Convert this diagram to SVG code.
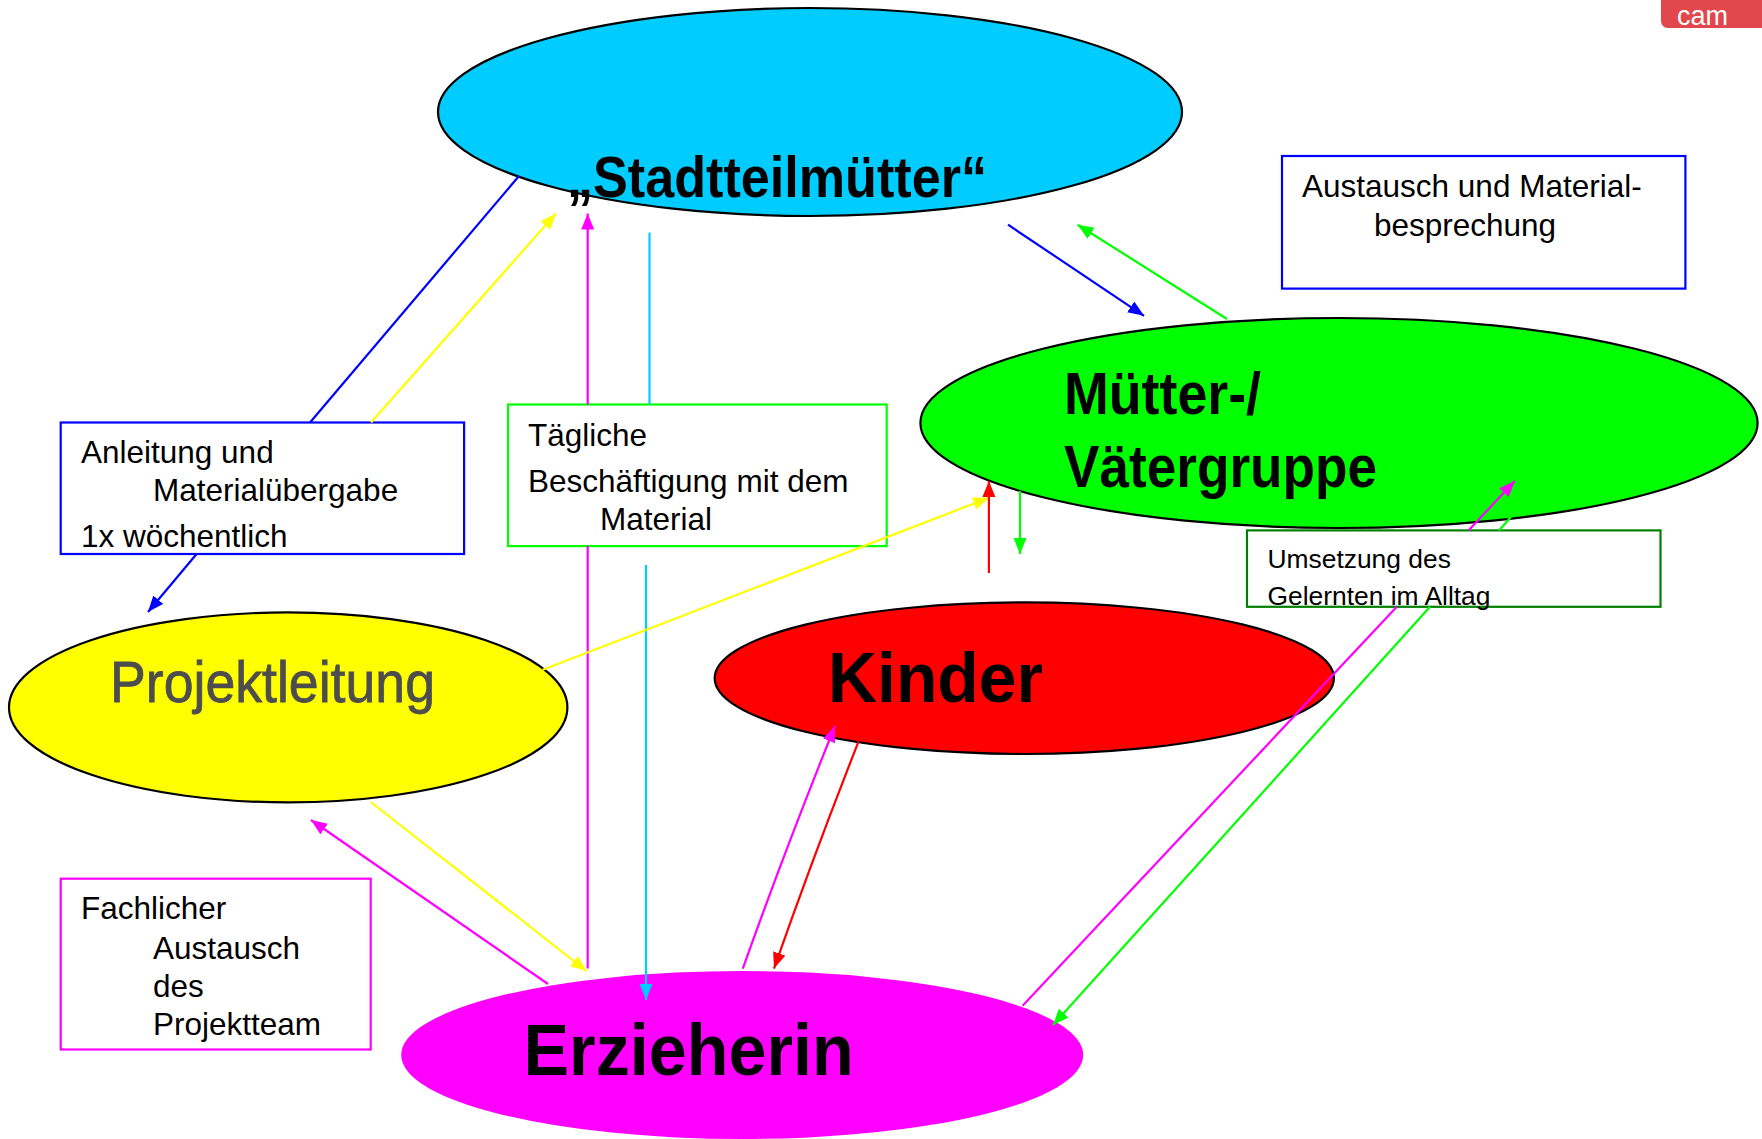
<svg xmlns="http://www.w3.org/2000/svg" width="1762" height="1139" viewBox="0 0 1762 1139">
<style>
.node{stroke:#000;stroke-width:2.2}
.big{font-family:"Liberation Sans",Arial,sans-serif;font-weight:bold;fill:#000}
.lbl{font-family:"Liberation Sans",Arial,sans-serif;font-size:31.5px;fill:#000}
.sm{font-size:26.4px}
.box{fill:#fff;stroke-width:2.2}
.c{fill:none;stroke-width:2.2}
</style>
<defs>
<marker id="aBlue" markerUnits="userSpaceOnUse" markerWidth="17" markerHeight="14" refX="16" refY="6.5" orient="auto"><path d="M0,0 L16,6.5 L0,13 z" fill="#0000ff"/></marker>
<marker id="aYellow" markerUnits="userSpaceOnUse" markerWidth="17" markerHeight="14" refX="16" refY="6.5" orient="auto"><path d="M0,0 L16,6.5 L0,13 z" fill="#ffff00"/></marker>
<marker id="aMagenta" markerUnits="userSpaceOnUse" markerWidth="17" markerHeight="14" refX="16" refY="6.5" orient="auto"><path d="M0,0 L16,6.5 L0,13 z" fill="#ff00ff"/></marker>
<marker id="aCyan" markerUnits="userSpaceOnUse" markerWidth="17" markerHeight="14" refX="16" refY="6.5" orient="auto"><path d="M0,0 L16,6.5 L0,13 z" fill="#00ccff"/></marker>
<marker id="aGreen" markerUnits="userSpaceOnUse" markerWidth="17" markerHeight="14" refX="16" refY="6.5" orient="auto"><path d="M0,0 L16,6.5 L0,13 z" fill="#00ff00"/></marker>
<marker id="aRed" markerUnits="userSpaceOnUse" markerWidth="17" markerHeight="14" refX="16" refY="6.5" orient="auto"><path d="M0,0 L16,6.5 L0,13 z" fill="#ff0000"/></marker>
</defs>
<rect width="1762" height="1139" fill="#fff"/>

<g id="logo">
<rect x="1661" y="-20" width="130" height="48" rx="7" fill="#e2474d"/>
<text x="1677" y="25" fill="#fff" font-family="Liberation Sans, Arial, sans-serif" font-size="27">cam</text>
</g>

<g id="stadtteilmuetter">
<ellipse class="node" cx="810" cy="112" rx="372" ry="104" fill="#00ccff"/>
<text class="big" x="567" y="197" font-size="58" textLength="420" lengthAdjust="spacingAndGlyphs">„Stadtteilmütter“</text>
</g>

<g id="muetter-vaetergruppe">
<ellipse class="node" cx="1339" cy="423" rx="418.6" ry="105" fill="#00ff00"/>
<text class="big" x="1064" y="413.5" font-size="59" textLength="197" lengthAdjust="spacingAndGlyphs">Mütter-/</text>
<text class="big" x="1064" y="486.6" font-size="59" textLength="313" lengthAdjust="spacingAndGlyphs">Vätergruppe</text>
</g>

<g id="projektleitung">
<ellipse class="node" cx="288.2" cy="707.4" rx="279.2" ry="95" fill="#ffff00"/>
<text x="110" y="702" font-family="Liberation Sans, Arial, sans-serif" font-size="58" fill="#4d4d4d" stroke="#4d4d4d" stroke-width="0.8" textLength="325" lengthAdjust="spacingAndGlyphs">Projektleitung</text>
</g>

<g id="kinder">
<ellipse class="node" cx="1024.3" cy="678.2" rx="309.6" ry="75.8" fill="#ff0000"/>
<text class="big" x="828" y="702" font-size="70" textLength="215" lengthAdjust="spacingAndGlyphs">Kinder</text>
</g>

<g id="erzieherin">
<ellipse cx="742.2" cy="1055" rx="341" ry="84" fill="#ff00ff"/>
<text class="big" x="523.6" y="1075" font-size="73" textLength="330" lengthAdjust="spacingAndGlyphs">Erzieherin</text>
</g>

<g id="box-anleitung">
<rect class="box" x="60.7" y="422.5" width="403.4" height="131.5" stroke="#0000ff"/>
<text class="lbl" x="81" y="463">Anleitung und</text>
<text class="lbl" x="153" y="501">Materialübergabe</text>
<text class="lbl" x="81" y="547">1x wöchentlich</text>
</g>

<g id="box-taegliche">
<rect class="box" x="508" y="404.5" width="378.7" height="141.6" stroke="#00ff00"/>
<text class="lbl" x="528" y="446">Tägliche</text>
<text class="lbl" x="528" y="492">Beschäftigung mit dem</text>
<text class="lbl" x="600" y="530">Material</text>
</g>

<g id="box-austausch">
<rect class="box" x="1282" y="156" width="403.4" height="132.6" stroke="#0000ff"/>
<text class="lbl" x="1302" y="196.6">Austausch und Material-</text>
<text class="lbl" x="1374" y="236">besprechung</text>
</g>

<g id="box-umsetzung">
<rect class="box" x="1247" y="530.4" width="413.5" height="76.4" stroke="#008000"/>
<text class="lbl sm" x="1267.5" y="567.5">Umsetzung des</text>
<text class="lbl sm" x="1267.5" y="604.5">Gelernten im Alltag</text>
</g>

<g id="box-fachlicher">
<rect class="box" x="60.7" y="878.7" width="310" height="170.8" stroke="#ff00ff"/>
<text class="lbl" x="81" y="919">Fachlicher</text>
<text class="lbl" x="153" y="958.5">Austausch</text>
<text class="lbl" x="153" y="996.7">des</text>
<text class="lbl" x="153" y="1035">Projektteam</text>
</g>

<g id="connectors">
<path class="c" stroke="#0000ff" d="M519,176 L310,422.5"/>
<path class="c" stroke="#0000ff" d="M196.6,554 L148,612" marker-end="url(#aBlue)"/>
<path class="c" stroke="#ffff00" d="M371,422.5 L556,213.5" marker-end="url(#aYellow)"/>
<path class="c" stroke="#ff00ff" d="M587.7,404.5 L587.7,213.5" marker-end="url(#aMagenta)"/>
<path class="c" stroke="#ff00ff" d="M587.7,968.6 L587.7,546"/>
<path class="c" stroke="#00ccff" d="M649.5,232.6 L649.5,404.5"/>
<path class="c" stroke="#00ccff" d="M646,565 L646,1000" marker-end="url(#aCyan)"/>
<path class="c" stroke="#0000ff" d="M1008,224.7 L1144,315.8" marker-end="url(#aBlue)"/>
<path class="c" stroke="#00ff00" d="M1227,319 L1077.6,224.7" marker-end="url(#aGreen)"/>
<path class="c" stroke="#ffff00" d="M542.7,669.7 L988.9,497.8" marker-end="url(#aYellow)"/>
<path class="c" stroke="#ff0000" d="M988.9,573 L988.9,481" marker-end="url(#aRed)"/>
<path class="c" stroke="#00ff00" d="M1020,491 L1020,554" marker-end="url(#aGreen)"/>
<path class="c" stroke="#ff00ff" d="M742.8,968.6 Q785,850 835,726" marker-end="url(#aMagenta)"/>
<path class="c" stroke="#ff0000" d="M858.5,741.6 Q812,860 774,968.6" marker-end="url(#aRed)"/>
<path class="c" stroke="#ffff00" d="M370.8,802 L586.6,971" marker-end="url(#aYellow)"/>
<path class="c" stroke="#ff00ff" d="M548,984 L311,820" marker-end="url(#aMagenta)"/>
<path class="c" stroke="#ff00ff" d="M1022.6,1005.7 L1396.8,606.8"/>
<path class="c" stroke="#ff00ff" d="M1468.5,530.4 L1514.8,481" marker-end="url(#aMagenta)"/>
<path class="c" stroke="#00ff00" d="M1511,517 L1498.9,530.4"/>
<path class="c" stroke="#00ff00" d="M1430,606.8 L1053,1025" marker-end="url(#aGreen)"/>
</g>
</svg>
